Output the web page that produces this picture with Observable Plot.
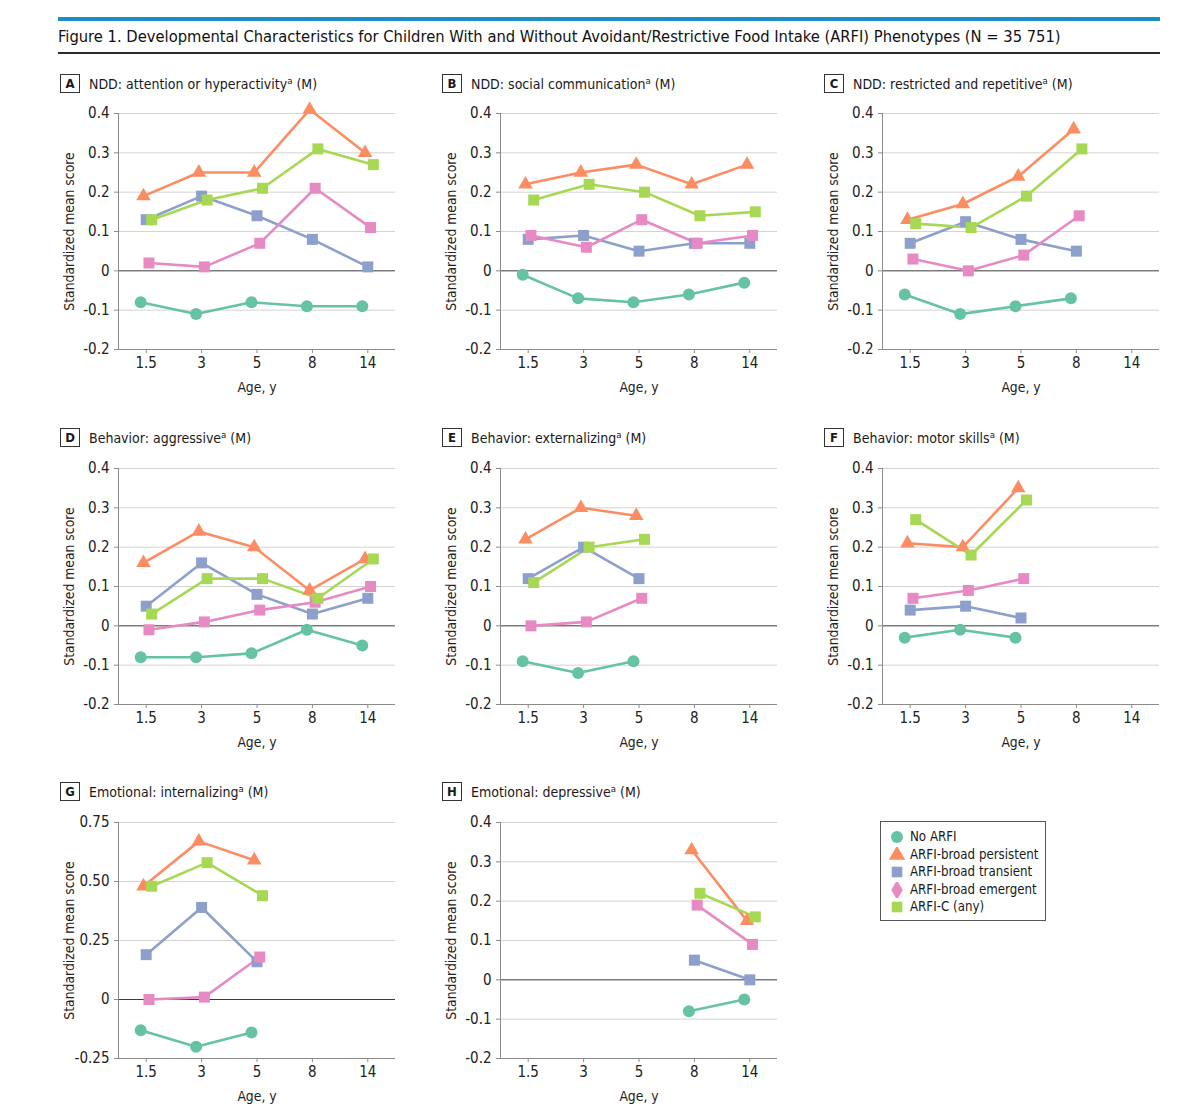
<!DOCTYPE html>
<html>
<head>
<meta charset="utf-8">
<script src="https://cdn.jsdelivr.net/npm/d3@7"></script>
<script src="https://cdn.jsdelivr.net/npm/@observablehq/plot@0.6"></script>
<style>
  html, body { margin: 0; padding: 0; background: #fff; }
  body { font-family: "DejaVu Sans Condensed", "Liberation Sans Narrow", sans-serif; color: #1a1a1a; }
  #page { position: relative; width: 1200px; height: 1110px; overflow: hidden; }
  .topbar { position: absolute; left: 58px; top: 17px; width: 1102px; height: 4px; background: #1a8fc1; }
  .title { position: absolute; left: 58px; top: 27px; font-size: 16.4px; white-space: nowrap; color: #111; }
  .rule { position: absolute; left: 58px; top: 52px; width: 1102px; height: 2px; background: #2a2a2a; }
  .phead { position: absolute; height: 20px; white-space: nowrap; font-size: 14px; color: #1a1a1a; }
  .pbox { display: inline-block; width: 18px; height: 17px; border: 1px solid #333; text-align: center; line-height: 17px; font-size: 13px; font-weight: bold; margin-right: 9px; vertical-align: middle; }
  .ptitle { vertical-align: middle; }
  .ptitle sup { font-size: 9.5px; vertical-align: 5px; line-height: 0; }
  .plot { position: absolute; }
  .plot svg { overflow: visible; }
  .legend { position: absolute; left: 880px; top: 821px; width: 164px; height: 98px; border: 1px solid #555; font-size: 13.2px; }
  .lrow { position: absolute; left: 0; height: 18px; white-space: nowrap; }
  .lrow svg { position: absolute; left: 8px; top: 1px; }
  .lrow span { position: absolute; left: 29px; top: 0; line-height: 18px; }
</style>
</head>
<body>
<div id="page">
  <div class="topbar"></div>
  <div class="title">Figure 1. Developmental Characteristics for Children With and Without Avoidant/Restrictive Food Intake (ARFI) Phenotypes (N = 35 751)</div>
  <div class="rule"></div>
</div>
<script>
// ---------- data ----------
const ages = ["1.5", "3", "5", "8", "14"];
const series = ["No ARFI", "ARFI-broad persistent", "ARFI-broad transient", "ARFI-broad emergent", "ARFI-C (any)"];
const seriesColors = ["#66c2a5", "#fc8d62", "#8da0cb", "#e78ac3", "#a6d854"];
const plotSymbols = ["circle", "triangle", "square", "square", "square"];
const legendSymbols = ["circle", "triangle", "square", "diamond", "square"];

const yTicks = [-0.2, -0.1, 0, 0.1, 0.2, 0.3, 0.4];
const gTicks = [-0.25, 0, 0.25, 0.5, 0.75];

const panelLetters = ["A", "B", "C", "D", "E", "F", "G", "H"];
const panelTitles = [
  "NDD: attention or hyperactivity", "NDD: social communication", "NDD: restricted and repetitive",
  "Behavior: aggressive", "Behavior: externalizing", "Behavior: motor skills",
  "Emotional: internalizing", "Emotional: depressive"
];
const yLabel = "Standardized mean score";
const xLabel = "Age, y";

// rows in series order: No ARFI, persistent, transient, emergent, ARFI-C
const aAges = ["1.5", "3", "5", "8", "14"];
const aValues = [
  [-0.08, -0.11, -0.08, -0.09, -0.09],
  [0.19, 0.25, 0.25, 0.41, 0.30],
  [0.13, 0.19, 0.14, 0.08, 0.01],
  [0.02, 0.01, 0.07, 0.21, 0.11],
  [0.13, 0.18, 0.21, 0.31, 0.27]
];
const bAges = ["1.5", "3", "5", "8", "14"];
const bValues = [
  [-0.01, -0.07, -0.08, -0.06, -0.03],
  [0.22, 0.25, 0.27, 0.22, 0.27],
  [0.08, 0.09, 0.05, 0.07, 0.07],
  [0.09, 0.06, 0.13, 0.07, 0.09],
  [0.18, 0.22, 0.20, 0.14, 0.15]
];
const cAges = ["1.5", "3", "5", "8"];
const cValues = [
  [-0.06, -0.11, -0.09, -0.07],
  [0.13, 0.17, 0.24, 0.36],
  [0.07, 0.125, 0.08, 0.05],
  [0.03, 0.00, 0.04, 0.14],
  [0.12, 0.11, 0.19, 0.31]
];
const dAges = ["1.5", "3", "5", "8", "14"];
const dValues = [
  [-0.08, -0.08, -0.07, -0.01, -0.05],
  [0.16, 0.24, 0.20, 0.09, 0.17],
  [0.05, 0.16, 0.08, 0.03, 0.07],
  [-0.01, 0.01, 0.04, 0.06, 0.10],
  [0.03, 0.12, 0.12, 0.07, 0.17]
];
const eAges = ["1.5", "3", "5"];
const eValues = [
  [-0.09, -0.12, -0.09],
  [0.22, 0.30, 0.28],
  [0.12, 0.20, 0.12],
  [0.00, 0.01, 0.07],
  [0.11, 0.20, 0.22]
];
const fAges = ["1.5", "3", "5"];
const fValues = [
  [-0.03, -0.01, -0.03],
  [0.21, 0.20, 0.35],
  [0.04, 0.05, 0.02],
  [0.07, 0.09, 0.12],
  [0.27, 0.18, 0.32]
];
const gAges = ["1.5", "3", "5"];
const gValues = [
  [-0.13, -0.20, -0.14],
  [0.48, 0.67, 0.59],
  [0.19, 0.39, 0.16],
  [0.00, 0.01, 0.18],
  [0.48, 0.58, 0.44]
];
const hAges = ["8", "14"];
const hValues = [
  [-0.08, -0.05],
  [0.33, 0.15],
  [0.05, 0.00],
  [0.19, 0.09],
  [0.22, 0.16]
];

// ---------- styles / layout ----------
const FONT = '"DejaVu Sans Condensed", "Liberation Sans Narrow", sans-serif';
const dodge = [-5.5, -2.75, 0, 2.75, 5.5];
const symbolR = [6, 5.4, 6.2, 6.2, 6.2];
const colLeft = [58, 440, 822];
const rowHeadTop = [74, 428, 782];
const rowPlotTop = [103, 458, 812];

const panels = [
  {ages: aAges, values: aValues, ticks: yTicks},
  {ages: bAges, values: bValues, ticks: yTicks},
  {ages: cAges, values: cValues, ticks: yTicks},
  {ages: dAges, values: dValues, ticks: yTicks},
  {ages: eAges, values: eValues, ticks: yTicks},
  {ages: fAges, values: fValues, ticks: yTicks},
  {ages: gAges, values: gValues, ticks: gTicks},
  {ages: hAges, values: hValues, ticks: yTicks}
];

const page = document.getElementById("page");

function fmtTick(ticks) {
  const digits = ticks === gTicks ? 2 : 1;
  return d => d === 0 ? "0" : d.toFixed(digits);
}

function makePanel(p) {
  const rows = [];
  p.values.forEach((vals, s) => {
    vals.forEach((v, i) => rows.push({series: series[s], s, xi: ages.indexOf(p.ages[i]), y: v}));
  });
  const yMin = d3.min(p.ticks), yMax = d3.max(p.ticks);
  const marks = [
    Plot.gridY(p.ticks.filter(t => t !== 0 && t !== yMin), {stroke: "#d3d3d3", strokeOpacity: 1, strokeWidth: 1}),
    Plot.ruleY([0], {stroke: "#3a3a3a", strokeWidth: 1}),
    Plot.ruleY([yMin], {stroke: "#8a8a8a", strokeWidth: 1}),
    Plot.ruleX([-0.5], {stroke: "#8a8a8a", strokeWidth: 1}),
    Plot.axisY({
      ticks: p.ticks, tickFormat: fmtTick(p.ticks), tickSize: 4, tickPadding: 5,
      stroke: "#8a8a8a", fill: "#222", fontSize: 15, label: null
    }),
    Plot.axisY({
      ticks: [], fill: "#222", fontSize: 13.8,
      label: yLabel, labelAnchor: "center", labelOffset: 54, labelArrow: "none"
    }),
    Plot.axisX({
      ticks: d3.range(ages.length), tickFormat: i => ages[i], tickSize: 4, tickPadding: 4,
      stroke: "#8a8a8a", fill: "#222", fontSize: 15, label: null
    }),
    Plot.axisX({
      ticks: [], fill: "#222", fontSize: 13.8,
      label: xLabel, labelAnchor: "center", labelOffset: 42, labelArrow: "none"
    })
  ];
  series.forEach((name, s) => {
    const d = rows.filter(r => r.s === s);
    marks.push(Plot.line(d, {x: "xi", y: "y", stroke: seriesColors[s], strokeWidth: 2.6, dx: dodge[s]}));
  });
  series.forEach((name, s) => {
    const d = rows.filter(r => r.s === s);
    marks.push(Plot.dot(d, {x: "xi", y: "y", fill: seriesColors[s], symbol: plotSymbols[s], r: symbolR[s], dx: dodge[s], stroke: "none"}));
  });
  return Plot.plot({
    width: 337, height: 296,
    marginLeft: 60, marginRight: 0, marginTop: 10, marginBottom: 50,
    style: {fontFamily: FONT, fontSize: "15px", color: "#222", background: "transparent", overflow: "visible"},
    x: {type: "linear", domain: [-0.5, ages.length - 0.5], axis: null},
    y: {domain: [yMin, yMax], axis: null},
    marks
  });
}

panels.forEach((p, k) => {
  const col = k % 3, row = Math.floor(k / 3);
  const head = document.createElement("div");
  head.className = "phead";
  head.style.left = (colLeft[col] + 2) + "px";
  head.style.top = rowHeadTop[row] + "px";
  head.innerHTML = `<span class="pbox">${panelLetters[k]}</span><span class="ptitle">${panelTitles[k]}<sup>a</sup> (M)</span>`;
  page.appendChild(head);
  const holder = document.createElement("div");
  holder.className = "plot";
  holder.style.left = colLeft[col] + "px";
  holder.style.top = rowPlotTop[row] + "px";
  holder.appendChild(makePanel(p));
  page.appendChild(holder);
});

// ---------- legend ----------
const legend = document.createElement("div");
legend.className = "legend";
series.forEach((name, s) => {
  const row = document.createElement("div");
  row.className = "lrow";
  row.style.top = (6 + s * 17.5) + "px";
  const sym = d3.symbol().type({circle: d3.symbolCircle, triangle: d3.symbolTriangle, square: d3.symbolSquare, diamond: d3.symbolDiamond}[legendSymbols[s]]).size(Math.PI * 36)();
  row.innerHTML = `<svg width="16" height="16"><path transform="translate(8,8)" d="${sym}" fill="${seriesColors[s]}"></path></svg><span>${name}</span>`;
  legend.appendChild(row);
});
page.appendChild(legend);
</script>
</body>
</html>
